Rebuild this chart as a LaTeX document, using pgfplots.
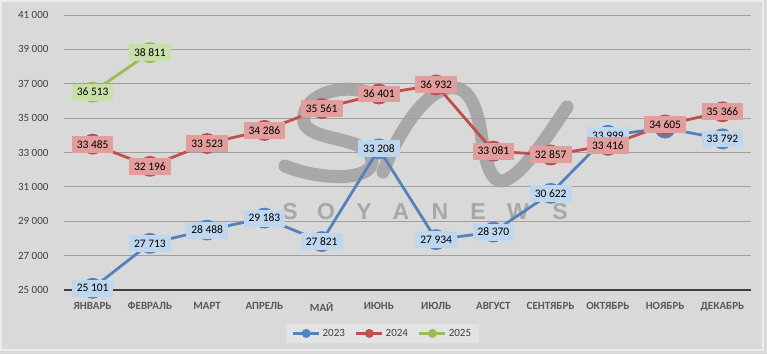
\documentclass[border=0pt]{standalone}
\usepackage{pgfplots}
\pgfplotsset{compat=1.18}
\usepackage{pgfplotstable}
\usepackage{fontspec}
\setmainfont{Carlito}
\newfontfamily\wmfont{Liberation Sans}
\definecolor{bg}{RGB}{217,217,217}
\definecolor{edge}{RGB}{236,236,236}
\definecolor{gridc}{RGB}{160,160,160}
\definecolor{axisc}{RGB}{64,64,64}
\definecolor{tickc}{RGB}{64,64,64}
\definecolor{monthc}{RGB}{89,89,89}
\definecolor{wm}{RGB}{168,168,168}
\definecolor{legbg}{RGB}{227,227,227}
\definecolor{c23}{RGB}{84,130,188}
\definecolor{c24}{RGB}{192,80,77}
\definecolor{c25}{RGB}{155,187,89}
\definecolor{l23}{RGB}{190,214,238}
\definecolor{l24}{RGB}{226,158,156}
\definecolor{l25}{RGB}{200,224,168}

\pgfplotstableread{
x y
0 25101
1 27713
2 28488
3 29183
4 27821
5 33208
6 27934
7 28370
8 30622
9 33999
10 34420
11 33792
}\tblA
\pgfplotstableread{
x y
0 25101
1 27713
2 28488
3 29183
4 27821
5 33208
6 27934
7 28370
8 30622
9 33999
11 33792
}\tblAlab
\pgfplotstableread{
x y
0 33485
1 32196
2 33523
3 34286
4 35561
5 36401
6 36932
7 33081
8 32857
9 33416
10 34605
11 35366
}\tblB
\pgfplotstableread{
x y
0 36513
1 38811
}\tblC

\begin{document}
\begin{tikzpicture}
\fill[bg] (0pt,0pt) rectangle (767pt,354pt);
\draw[edge, line width=1.5pt] (1pt,4pt) rectangle (763pt,353pt);
% watermark
\begin{scope}[x=1pt, y=-1pt, shift={(0pt,354pt)}]
\draw[wm, line width=13pt, line cap=round, line join=round]
  (370,93) .. controls (340,82) and (300,96) .. (304,122)
  .. controls (308,142) and (370,136) .. (372,160)
  .. controls (374,182) and (318,180) .. (285,166);
\draw[wm, line width=13pt, line cap=round, line join=round]
  (383,172) .. controls (395,140) and (420,95) .. (448,88)
  .. controls (470,84) and (478,110) .. (482,140)
  .. controls (486,165) and (492,182) .. (502,181)
  .. controls (520,178) and (545,140) .. (567,107);
\foreach \c/\xx in {S/290,O/326,Y/364,A/401,N/440,E/478,W/518,S/560}
  \node[text=wm, font=\wmfont\bfseries\fontsize{23}{23}\selectfont] at (\xx,212) {\c};
\end{scope}
\begin{axis}[
  at={(64pt,64pt)}, anchor=south west, scale only axis,
  width=687pt, height=275pt,
  xmin=-0.5, xmax=11.5, ymin=25000, ymax=41000,
  ytick={25000,27000,...,41000},
  scaled y ticks=false,
  xtick={0,...,11},
  xticklabels={ЯНВАРЬ,ФЕВРАЛЬ,МАРТ,АПРЕЛЬ,МАЙ,ИЮНЬ,ИЮЛЬ,АВГУСТ,СЕНТЯБРЬ,ОКТЯБРЬ,НОЯБРЬ,ДЕКАБРЬ},
  /pgf/number format/.cd, 1000 sep={\ }, assume math mode=true,
  /pgfplots/.cd,
  major tick length=0pt,
  axis x line*=bottom, axis y line*=left,
  x axis line style={draw=axisc, line width=2pt},
  y axis line style={draw=none},
  ymajorgrids, grid style={gridc, line width=0.8pt},
  yticklabel style={font=\fontsize{11}{13}\selectfont, text=tickc, xshift=-12pt},
  xticklabel style={font=\bfseries\fontsize{11}{13}\selectfont, text=monthc, yshift=-8.5pt},
  clip=false,
  legend style={at={(0.4636,-0.158)}, anchor=center, legend columns=3,
    draw=none, fill=legbg, font=\fontsize{11}{13}\selectfont, text=tickc,
    inner xsep=6pt, inner ysep=3pt,
    /tikz/every even column/.append style={column sep=8pt}},
  legend image code/.code={\draw[mark repeat=2,mark phase=2,#1,mark size=3pt]
     plot coordinates {(0pt,0pt) (13pt,0pt) (26pt,0pt)};},
  every node near coord/.append style={font=\fontsize{11.5}{13}\selectfont, text=black,
     anchor=center, inner xsep=5pt, inner ysep=4.5pt},
]
\addplot[c23, line width=2.8pt, mark=*, mark size=9pt, mark options={solid}] table[x=x,y=y] {\tblA};
\addlegendentry{2023}
\addplot[c24, line width=2.8pt, mark=*, mark size=9pt, mark options={solid}] table[x=x,y=y] {\tblB};
\addlegendentry{2024}
\addplot[c25, line width=2.8pt, mark=*, mark size=9pt, mark options={solid}] table[x=x,y=y] {\tblC};
\addlegendentry{2025}
\addplot[draw=none, mark=none, forget plot, point meta=y, nodes near coords,
  nodes near coords align=center,
  every node near coord/.append style={fill=l23}] table[x=x,y=y] {\tblAlab};
\addplot[draw=none, mark=none, forget plot, point meta=y, nodes near coords,
  nodes near coords align=center,
  every node near coord/.append style={fill=l24}] table[x=x,y=y] {\tblB};
\addplot[draw=none, mark=none, forget plot, point meta=y, nodes near coords,
  nodes near coords align=center,
  every node near coord/.append style={fill=l25}] table[x=x,y=y] {\tblC};
\end{axis}
\end{tikzpicture}
\end{document}
